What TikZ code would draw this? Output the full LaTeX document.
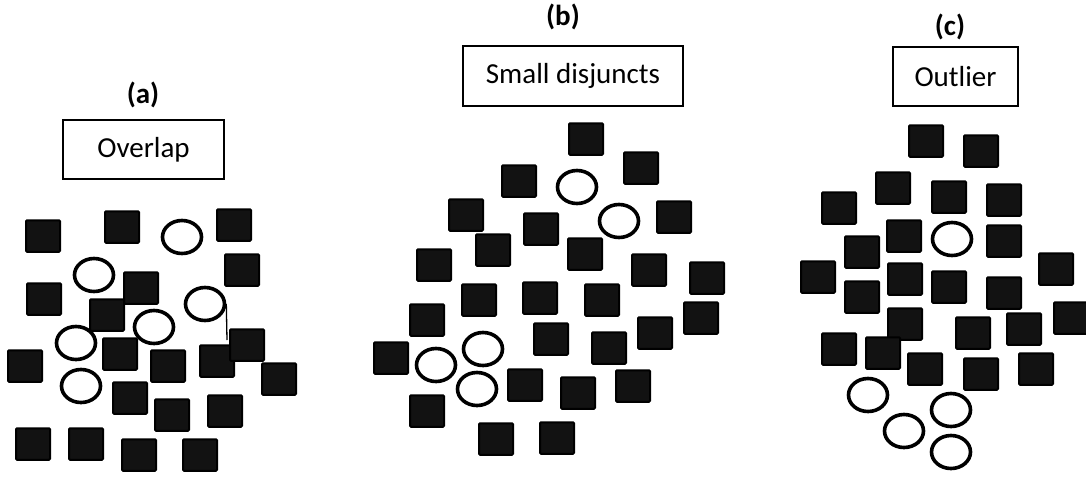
\documentclass[tikz,border=0pt]{standalone}
\usepackage{fontspec}
\setmainfont{Carlito}
\usetikzlibrary{shapes.geometric}
\begin{document}
\begin{tikzpicture}[x=1pt,y=-1pt,
  sq/.style={draw=black,fill=black!93,line width=2pt,minimum width=34pt,minimum height=31.5pt,inner sep=0pt,rounded corners=1pt},
  ci/.style={draw=black,ellipse,line width=3.6pt,minimum width=39pt,minimum height=33pt,inner sep=0pt},
  lab/.style={draw=black,line width=1.8pt,inner sep=0pt,font=\fontsize{29}{33}\selectfont},
  ttl/.style={font=\bfseries\fontsize{29}{33}\selectfont,inner sep=0pt}]
\useasboundingbox (0,0) rectangle (1086,477);
\fill[white] (0,0) rectangle (1086,477);
% ---------- (a)
\node[ttl] (ta) at (143,95) {(a)};
\node[lab,minimum width=161pt,minimum height=59pt] (la) at (143.5,149.5) {Overlap};
\foreach \n/\x/\y in {1/43/236,2/122/227,3/234/225,4/242/270,5/44/299,6/141/288,7/107/315,8/120/354,9/25/366,10/168/366,11/217/361,12/247/345,13/279/379,14/130/398,15/172/415,16/225/411,17/33/444,18/86/444,19/139/455,20/200/455}
  \node[sq] (sa\n) at (\x,\y) {};
\foreach \n/\x/\y in {1/182/237,2/94/275,3/205/304,4/154/327,5/76/343,6/81/386}
  \node[ci] (ca\n) at (\x,\y) {};
\coordinate (lnend) at (227,340);
\draw[line width=1.3pt] (ca3.east) -- (lnend);
% ---------- (b)
\node[ttl] (tb) at (563,17) {(b)};
\node[lab,minimum width=220pt,minimum height=60pt] (lb) at (573,76) {Small disjuncts};
\foreach \n/\x/\y in {1/586/139,2/641/168,3/519/181,4/466/215,5/541/229,6/674/217,7/493/250,8/585/254,9/434/265,10/649/270,11/707/278,12/479/300,13/540/298,14/602/300,15/427/320,16/701/318,17/551/339,18/655/333,19/609/348,20/391/358,21/525/385,22/578/393,23/633/386,24/427/411,25/496/439,26/557/438}
  \node[sq] (sb\n) at (\x,\y) {};
\foreach \n/\x/\y in {1/577/187,2/619/221,3/483/349,4/436/365,5/477/389}
  \node[ci] (cb\n) at (\x,\y) {};
% ---------- (c)
\node[ttl] (tc) at (950,27) {(c)};
\node[lab,minimum width=125pt,minimum height=59pt] (lc) at (955.5,76.5) {Outlier};
\foreach \n/\x/\y in {1/926/141,2/981/151,3/893/188,4/839/208,5/949/197,6/1004/200,7/904/236,8/1004/241,9/862/252,10/818/277,11/905/279,12/1056/269,13/862/297,14/949/287,15/1004/293,16/1071/318,17/905/324,18/973/333,19/1024/329,20/839/349,21/883/353,22/925/369,23/981/374,24/1036/369}
  \node[sq] (sc\n) at (\x,\y) {};
\foreach \n/\x/\y in {1/952/239,2/868/395,3/951/410,4/904/431,5/951/452}
  \node[ci] (cc\n) at (\x,\y) {};
\end{tikzpicture}
\end{document}
